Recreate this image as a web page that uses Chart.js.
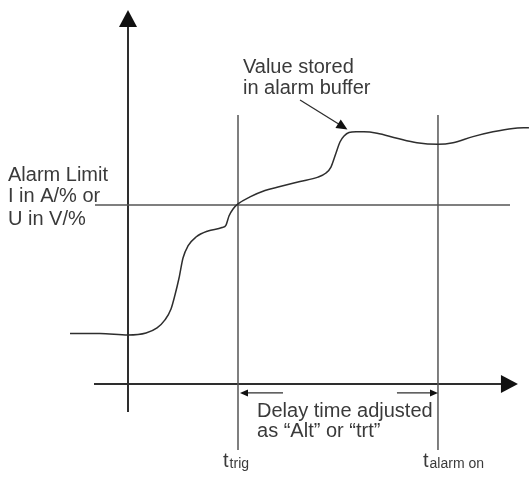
<!DOCTYPE html>
<html><head><meta charset="utf-8">
<script src="https://cdn.jsdelivr.net/npm/chart.js@4"></script>
<style>html,body{margin:0;padding:0;background:#fff;overflow:hidden}#wrap{position:relative;width:529px;height:477px}</style>
</head><body><div id="wrap"><canvas id="c"></canvas></div>
<script>
// ---- data (arbitrary schematic units: time on x, measured value on y) ----
const times  = [-5.27,-2.55,0,1.64,2.64,3.36,3.91,4.27,4.64,5.00,5.45,6.18,7.27,8.55,8.91,9.18,9.55,10.0,11.09,12.45,13.82,15.64,17.27,18.0,18.45,18.91,19.27,19.64,20.09,20.73,21.45,22.64,24.45,26.27,28.18,29.55,31.36,33.18,35.0,36.45];
const signal = [2.82,2.82,2.74,2.85,3.13,3.58,4.19,4.97,5.92,7.04,7.71,8.21,8.55,8.74,8.88,9.39,9.78,10.06,10.45,10.81,11.03,11.31,11.56,11.79,12.12,12.91,13.52,13.85,14.05,14.09,14.09,14.01,13.73,13.48,13.39,13.48,13.82,14.09,14.28,14.32];
const alarmLimit = 10;
const tTrig = 10;
const tAlarmOn = 28.18;
const limitSpan = [-3.0, 34.73];     // extent of the alarm-limit line (time)
const markerSpan = [-3.69, 15.03];   // extent of the time marker lines (value)
const xAxisSpan = [-3.09, 35.45];    // time axis extent (tip)
const yAxisSpan = [-1.56, 20.89];    // value axis extent (tip)
const limitLabel = ["Alarm Limit", "I in A/% or", "U in V/%"];
const bufferLabel = ["Value stored", "in alarm buffer"];
const delayLabel = ["Delay time adjusted", "as \u201CAlt\u201D or \u201Ctrt\u201D"];
const trigLabel = ["t", "trig"];
const alarmOnLabel = ["t", "alarm on"];

const INK = '#2e2e2e';
const TXT = '#3a3a3a';
const FONT = '"Liberation Sans", Arial, Helvetica, sans-serif';

const curve = times.map((t, i) => ({x: t, y: signal[i]}));

function arrowHead(ctx, tx, ty, angle, len, half) {
  ctx.save();
  ctx.translate(tx, ty);
  ctx.rotate(angle);
  ctx.beginPath();
  ctx.moveTo(0, 0);
  ctx.lineTo(-len, -half);
  ctx.lineTo(-len, half);
  ctx.closePath();
  ctx.fill();
  ctx.restore();
}

const diagram = {
  id: 'diagram',
  beforeDatasetsDraw(chart) {
    const ctx = chart.ctx, xs = chart.scales.x, ys = chart.scales.y;
    const X = v => xs.getPixelForValue(v), Y = v => ys.getPixelForValue(v);
    ctx.save();
    ctx.strokeStyle = INK; ctx.fillStyle = '#111';
    ctx.lineWidth = 2;
    // value axis
    const ax = X(0);
    ctx.beginPath(); ctx.moveTo(ax, Y(yAxisSpan[0])); ctx.lineTo(ax, Y(yAxisSpan[1]) + 15); ctx.stroke();
    arrowHead(ctx, ax, Y(yAxisSpan[1]), -Math.PI / 2, 17, 9);
    // time axis
    const ay = Y(0);
    ctx.beginPath(); ctx.moveTo(X(xAxisSpan[0]), ay); ctx.lineTo(X(xAxisSpan[1]) - 15, ay); ctx.stroke();
    arrowHead(ctx, X(xAxisSpan[1]), ay, 0, 17, 9);
    ctx.restore();
  },
  afterDatasetsDraw(chart) {
    const ctx = chart.ctx, xs = chart.scales.x, ys = chart.scales.y;
    const X = v => xs.getPixelForValue(v), Y = v => ys.getPixelForValue(v);
    ctx.save();
    // pointer arrow to stored value
    ctx.strokeStyle = INK; ctx.fillStyle = '#111'; ctx.lineWidth = 1.3;
    const p0 = [X(15.64), Y(15.87)], p1 = [X(19.95), Y(14.22)];
    const ang = Math.atan2(p1[1] - p0[1], p1[0] - p0[0]);
    ctx.beginPath(); ctx.moveTo(p0[0], p0[1]);
    ctx.lineTo(p1[0] - 8 * Math.cos(ang), p1[1] - 8 * Math.sin(ang)); ctx.stroke();
    arrowHead(ctx, p1[0], p1[1], ang, 11, 5);
    // delay arrows
    const dy = Y(-0.5);
    ctx.lineWidth = 1.3;
    ctx.beginPath(); ctx.moveTo(X(14.09), dy); ctx.lineTo(X(10.18) + 6, dy); ctx.stroke();
    arrowHead(ctx, X(10.18), dy, Math.PI, 8, 3.5);
    ctx.beginPath(); ctx.moveTo(X(24.45), dy); ctx.lineTo(X(28.18) - 6, dy); ctx.stroke();
    arrowHead(ctx, X(28.18), dy, 0, 8, 3.5);

    // texts
    ctx.fillStyle = TXT;
    ctx.textBaseline = 'alphabetic';
    ctx.textAlign = 'left';
    ctx.font = '20px ' + FONT;
    const lbl = (lines, t, vs) => lines.forEach((s, i) => ctx.fillText(s, X(t), Y(vs[i])));
    lbl(limitLabel, -10.91, [11.34, 10.17, 8.88]);
    lbl(bufferLabel, 10.45, [17.37, 16.2]);
    lbl(delayLabel, 11.73, [-1.84, -2.96]);
    const sub = (pair, t, v) => {
      ctx.font = '20px ' + FONT;
      ctx.fillText(pair[0], X(t), Y(v));
      const w = ctx.measureText(pair[0]).width;
      ctx.font = '14px ' + FONT;
      ctx.fillText(pair[1], X(t) + w + 1, Y(v) + 1);
    };
    sub(trigLabel, 8.64, -4.64);
    sub(alarmOnLabel, 26.82, -4.64);
    ctx.restore();
  }
};

new Chart(document.getElementById('c'), {
  type: 'line',
  data: {
    datasets: [
      { label: 'signal', data: curve, borderColor: INK, borderWidth: 1.5, pointRadius: 0,
        cubicInterpolationMode: 'monotone', fill: false, clip: false },
      { label: 'limit', data: [{x: limitSpan[0], y: alarmLimit}, {x: limitSpan[1], y: alarmLimit}],
        borderColor: '#555', borderWidth: 1.5, pointRadius: 0, tension: 0 },
      { label: 'trig', data: [{x: tTrig, y: markerSpan[0]}, {x: tTrig, y: markerSpan[1]}],
        borderColor: '#555', borderWidth: 1.5, pointRadius: 0, tension: 0 },
      { label: 'alarmOn', data: [{x: tAlarmOn, y: markerSpan[0]}, {x: tAlarmOn, y: markerSpan[1]}],
        borderColor: '#555', borderWidth: 1.5, pointRadius: 0, tension: 0 }
    ]
  },
  options: {
    responsive: true, maintainAspectRatio: false, animation: false,
    layout: { padding: 0 },
    plugins: { legend: { display: false }, tooltip: { enabled: false } },
    events: [],
    scales: {
      x: { type: 'linear', min: -128 / 11, max: 401 / 11, display: false },
      y: { type: 'linear', min: -93 / 17.9, max: 384 / 17.9, display: false }
    }
  },
  plugins: [diagram]
});
</script>
</body></html>
